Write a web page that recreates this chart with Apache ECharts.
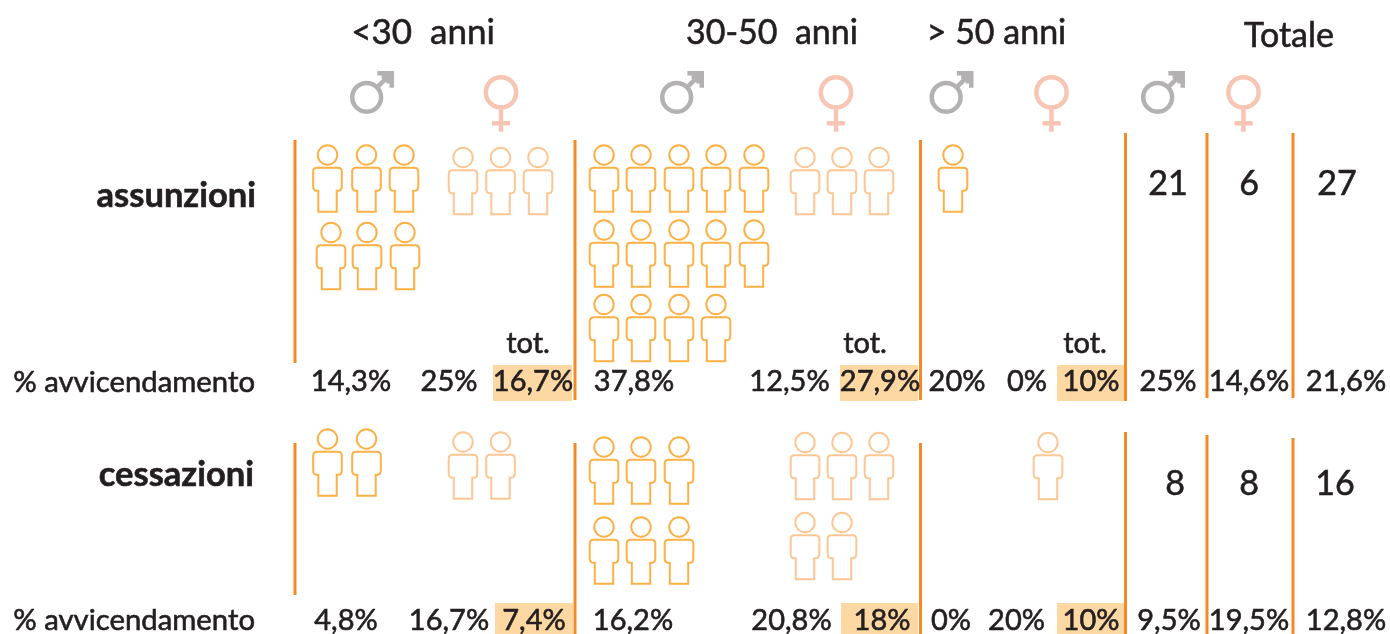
<!DOCTYPE html>
<html>
<head>
<meta charset="utf-8">
<title>assunzioni e cessazioni</title>
<script src="https://cdn.jsdelivr.net/npm/echarts@6/dist/echarts.min.js"></script>
<style>
  html, body { margin: 0; padding: 0; background: #fff; }
  #main { width: 1390px; height: 634px; }
</style>
</head>
<body>
<div id="main"></div>
<script>
  // dati: M, F per ogni fascia d'eta
  const ageGroups = ['<30  anni', '30-50  anni', '> 50 anni', 'Totale'];
  const rowNames = ['assunzioni', 'cessazioni'];
  const rateLabel = '% avvicendamento';
  const totLabel = 'tot.';
  const hiresCount = [6, 3, 14, 3, 1, 0];
  const exitsCount = [2, 2, 6, 5, 0, 1];
  const hiresTotals = ['21', '6', '27'];
  const exitsTotals = ['8', '8', '16'];
  const hiresRates = ['14,3%', '25%', '16,7%', '37,8%', '12,5%', '27,9%', '20%', '0%', '10%', '25%', '14,6%', '21,6%'];
  const exitsRates = ['4,8%', '16,7%', '7,4%', '16,2%', '20,8%', '18%', '0%', '20%', '10%', '9,5%', '19,5%', '12,8%'];

  // layout in pixel (gli assi vanno 1:1 sulla pagina)
  const hiresSlots = [
    { ys: [178.5, 256], xs: [[327.5, 366.5, 404], [331, 367, 405]] },
    { ys: [181], xs: [[463, 500.5, 538]] },
    { ys: [178.5, 253.5, 328], xs: [[604, 641, 679, 716, 754], [604, 641, 679, 716, 754], [604, 641, 679, 716]] },
    { ys: [181], xs: [[805, 842, 879]] },
    { ys: [178.5], xs: [[953]] },
    { ys: [], xs: [] }
  ];
  const exitsSlots = [
    { ys: [462.5], xs: [[327.5, 366.5]] },
    { ys: [465.5], xs: [[463, 500.5]] },
    { ys: [470.5, 550.5], xs: [[604, 641, 679], [604, 641, 679]] },
    { ys: [466, 546], xs: [[805, 842, 879], [805, 842]] },
    { ys: [], xs: [] },
    { ys: [466], xs: [[1048]] }
  ];
  const rateX1 = [351, 449, 533, 634, 789.5, 880, 957, 1027, 1091, 1168, 1249, 1346];
  const rateX2 = [346, 449, 534, 633, 791.5, 882, 951, 1016.5, 1091, 1169, 1249, 1346];
  const dividers = [
    [295, 140, 363], [575, 140, 400], [920.5, 140, 400], [1125.5, 133, 401], [1207, 133, 398], [1293, 133, 398],
    [295, 443, 595], [575, 443, 634], [920.5, 443, 634], [1125.5, 432, 634], [1207, 435, 634], [1293, 438, 634]
  ];
  const highlights = [
    [493, 365, 572, 401], [840, 365, 918, 401], [1057, 365, 1124, 401],
    [495, 603, 573, 634], [841, 603, 918, 634], [1057, 603, 1124, 634]
  ];
  const maleIcons = [[372, 92.5], [682, 92.5], [951.5, 92.5], [1163, 92.5]];
  const femaleIcons = [[501, 104.5], [836, 104.5], [1051.5, 104.5], [1243.5, 104.5]];

  function circle(cx, cy, r) {
    const k = r * 0.5523;
    return 'M' + (cx - r) + ',' + cy +
      'C' + (cx - r) + ',' + (cy - k) + ',' + (cx - k) + ',' + (cy - r) + ',' + cx + ',' + (cy - r) +
      'C' + (cx + k) + ',' + (cy - r) + ',' + (cx + r) + ',' + (cy - k) + ',' + (cx + r) + ',' + cy +
      'C' + (cx + r) + ',' + (cy + k) + ',' + (cx + k) + ',' + (cy + r) + ',' + cx + ',' + (cy + r) +
      'C' + (cx - k) + ',' + (cy + r) + ',' + (cx - r) + ',' + (cy + k) + ',' + (cx - r) + ',' + cy + 'Z';
  }
  const personPath = 'path://' + circle(15, 10.5, 9.5) + 'M5,23H25C27.5,23,29,24.5,29,27V41C29,44,27.5,45.5,25,45.5H24V66H6V45.5H5C2.5,45.5,1,44,1,41V27C1,24.5,2.5,23,5,23Z';
  const malePath = 'path://' + circle(16, 26.5, 13.5) + 'M25.5,17.5L38,5M26,4H39.5V17.5M30,7H36.5V13.5';
  const femalePath = 'path://' + circle(17, 16, 15) + 'M17,31V55M8,46.5H26';

  const textColor = '#231f20';

  function personsData(counts, slots, start) {
    const out = [];
    for (let g = start; g < counts.length; g += 2) {
      let left = counts[g];
      slots[g].ys.forEach(function (y, r) {
        slots[g].xs[r].forEach(function (x) {
          if (left > 0) { out.push([x, y]); left--; }
        });
      });
    }
    return out;
  }

  const texts = [];
  function addText(x, y, text, font, align) {
    texts.push({ value: [x, y], text: text, font: font, align: align || 'center' });
  }
  const headFont = '400 34px Lato';
  addText(423, 33, ageGroups[0], '400 35px Lato');
  addText(772, 33, ageGroups[1], headFont);
  addText(996.5, 33, ageGroups[2], headFont);
  addText(1289, 36, ageGroups[3], headFont);
  addText(256, 196, rowNames[0], '700 34.5px Lato', 'right');
  addText(254, 475, rowNames[1], '700 34.5px Lato', 'right');
  addText(255, 383, rateLabel, '400 29.3px Lato', 'right');
  addText(255, 621, rateLabel, '400 29.3px Lato', 'right');
  [528, 865, 1085].forEach(function (x) { addText(x, 344, totLabel, '400 29px Lato'); });
  hiresRates.forEach(function (t, i) { addText(rateX1[i], 382, t, '400 29px Lato'); });
  exitsRates.forEach(function (t, i) { addText(rateX2[i], 621, t, '400 29px Lato'); });
  hiresTotals.forEach(function (t, i) { addText([1168, 1249, 1337][i], 184, t, '400 34px Lato'); });
  exitsTotals.forEach(function (t, i) { addText([1175, 1249, 1335][i], 484, t, '400 34px Lato'); });

  const chart = echarts.init(document.getElementById('main'));
  chart.setOption({
    animation: false,
    grid: { left: 0, right: 0, top: 0, bottom: 0 },
    xAxis: { type: 'value', min: 0, max: 1390, show: false },
    yAxis: { type: 'value', min: 0, max: 634, inverse: true, show: false },
    series: [
      {
        type: 'custom',
        name: 'highlights',
        silent: true,
        z: 1,
        data: highlights,
        renderItem: function (params, api) {
          const a = api.coord([api.value(0), api.value(1)]);
          const b = api.coord([api.value(2), api.value(3)]);
          return { type: 'rect', shape: { x: a[0], y: a[1], width: b[0] - a[0], height: b[1] - a[1] }, style: { fill: '#fdd8a2' } };
        }
      },
      {
        type: 'custom',
        name: 'dividers',
        silent: true,
        z: 2,
        data: dividers,
        renderItem: function (params, api) {
          const a = api.coord([api.value(0), api.value(1)]);
          const b = api.coord([api.value(0), api.value(2)]);
          return { type: 'line', shape: { x1: a[0], y1: a[1], x2: b[0], y2: b[1] }, style: { stroke: '#f58a24', lineWidth: 3 } };
        }
      },
      // symbolSize quadrato + keepAspect: con size non uniforme il bordo viene deformato
      {
        type: 'scatter',
        name: 'uomini',
        silent: true,
        z: 3,
        symbol: personPath,
        symbolKeepAspect: true,
        symbolSize: 66.5,
        itemStyle: { color: 'none', borderColor: '#fdb045', borderWidth: 2, opacity: 1 },
        data: personsData(hiresCount, hiresSlots, 0).concat(personsData(exitsCount, exitsSlots, 0))
      },
      {
        type: 'scatter',
        name: 'donne',
        silent: true,
        z: 3,
        symbol: personPath,
        symbolKeepAspect: true,
        symbolSize: 66.5,
        itemStyle: { color: 'none', borderColor: '#fcc695', borderWidth: 2, opacity: 1 },
        data: personsData(hiresCount, hiresSlots, 1).concat(personsData(exitsCount, exitsSlots, 1))
      },
      {
        type: 'scatter',
        name: 'maschio',
        silent: true,
        z: 3,
        symbol: malePath,
        symbolKeepAspect: true,
        symbolSize: 39.5,
        itemStyle: { color: 'none', borderColor: '#b3b1b1', borderWidth: 4.5, opacity: 1 },
        data: maleIcons
      },
      {
        type: 'scatter',
        name: 'femmina',
        silent: true,
        z: 3,
        symbol: femalePath,
        symbolKeepAspect: true,
        symbolSize: 54.5,
        itemStyle: { color: 'none', borderColor: '#f7c5b3', borderWidth: 4.5, opacity: 1 },
        data: femaleIcons
      },
      {
        type: 'custom',
        name: 'testi',
        silent: true,
        z: 4,
        data: texts,
        renderItem: function (params, api) {
          const t = texts[params.dataIndex];
          const p = api.coord(t.value);
          return {
            type: 'text',
            x: p[0],
            y: p[1],
            style: { text: t.text, font: t.font, fill: textColor, stroke: textColor, lineWidth: 0.6, align: t.align, verticalAlign: 'middle' }
          };
        }
      }
    ]
  });
</script>
</body>
</html>
